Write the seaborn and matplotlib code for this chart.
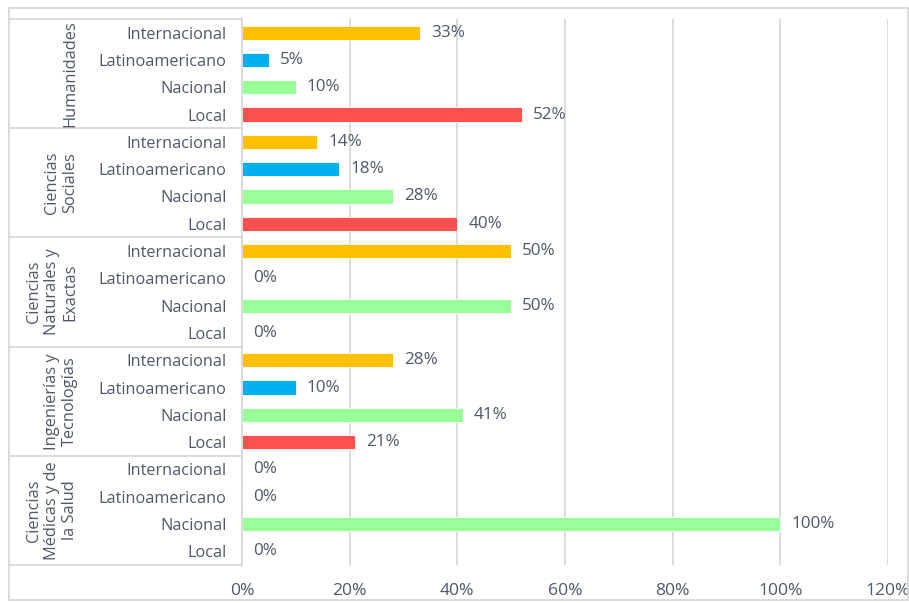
import numpy as np
import pandas as pd
import matplotlib.pyplot as plt
import seaborn as sns
from matplotlib.patches import Rectangle
from matplotlib.lines import Line2D

# data (top to bottom as shown)
groups = ["Humanidades", "Ciencias\nSociales", "Ciencias\nNaturales y\nExactas",
          "Ingenierías y\nTecnologías", "Ciencias\nMédicas y de\nla Salud"]
scopes = ["Internacional", "Latinoamericano", "Nacional", "Local"]
humanidades = [33, 5, 10, 52]
sociales = [14, 18, 28, 40]
naturales = [50, 0, 50, 0]
ingenierias = [28, 10, 41, 21]
medicas = [0, 0, 100, 0]
ticks = [0, 20, 40, 60, 80, 100, 120]

colors = {"Internacional": "#FFC000", "Latinoamericano": "#00B0F0",
          "Nacional": "#99FF99", "Local": "#FF5050"}

rows = []
for g, vals in zip(groups, [humanidades, sociales, naturales, ingenierias, medicas]):
    for s, v in zip(scopes, vals):
        rows.append({"row": f"{g}|{s}", "scope": s, "value": v})
df = pd.DataFrame(rows)

sns.set_style("white")
plt.rcParams['font.family'] = ['Open Sans', 'DejaVu Sans']
txt = "#4F5868"

fig = plt.figure(figsize=(9.09, 6.03), dpi=100)
ax = fig.add_axes([242/909, 1-565/603, (888-242)/909, (565-19)/603])

sns.barplot(data=df, y="row", x="value", hue="scope", palette=colors,
            dodge=False, orient="h", width=0.52, legend=False, ax=ax,
            saturation=1, linewidth=0.6, edgecolor="white")

for c in ax.containers:
    ax.bar_label(c, labels=[f"{v:.0f}%" for v in c.datavalues], padding=8,
                 fontsize=12.3, color=txt)

ax.set_xlim(0, 120)
ax.set_ylim(len(df) - 0.5, -0.5)
ax.set_xticks(ticks)
ax.set_xticklabels([f"{t}%" for t in ticks], fontsize=12.6, color=txt)
ax.set_yticks(range(len(df)))
ax.set_yticklabels(df["scope"], fontsize=11.7, color=txt)
ax.tick_params(axis="y", length=0, pad=11)
ax.tick_params(axis="x", length=0, pad=13)
ax.set_xlabel("")
ax.set_ylabel("")
ax.grid(axis="x", color="#D9D9D9", linewidth=1.3)
ax.set_axisbelow(True)
for s in ["top", "right", "bottom"]:
    ax.spines[s].set_visible(False)
ax.spines["left"].set_color("#D9D9D9")
ax.spines["left"].set_linewidth(1.3)

# group boxes and labels
x0, x1 = 9/909, 242/909
for i in range(len(groups) + 1):
    yy = 1 - (19 + i * 4 * 27.3) / 603
    fig.add_artist(Line2D([x0, x1], [yy, yy], transform=fig.transFigure,
                          color="#D9D9D9", linewidth=1.3))
for i, g in enumerate(groups):
    yc = 1 - (19 + (i * 4 + 2) * 27.3) / 603
    fig.text(78/909, yc, g, rotation=90, ha="right", va="center",
             multialignment="center", fontsize=11.8, color=txt, linespacing=1.15)

fig.add_artist(Rectangle((9/909, 3/603), 899/909, 592/603, transform=fig.transFigure,
                         fill=False, edgecolor="#D9D9D9", linewidth=1.3))

fig.savefig("out.png", dpi=100)
